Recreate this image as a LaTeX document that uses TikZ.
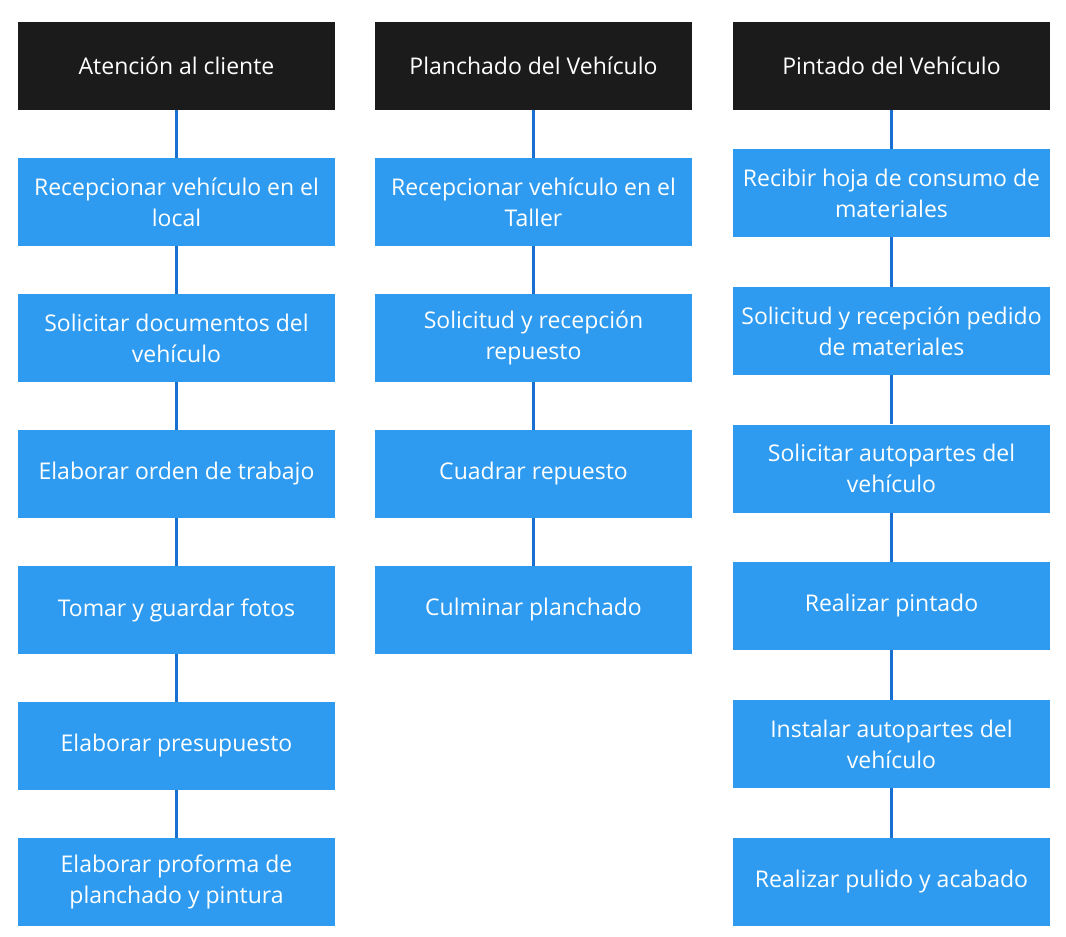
\documentclass[tikz,border=0pt]{standalone}
\usepackage{fontspec}
\setmainfont{Open Sans}
\definecolor{headfill}{HTML}{1B1B1B}
\definecolor{stepfill}{HTML}{2E9BF0}
\definecolor{linkcol}{HTML}{1A70D2}

\begin{document}
\begin{tikzpicture}[x=1pt, y=-1pt,
    headbox/.style={rectangle, fill=headfill, text=white, minimum width=317pt, minimum height=88pt, inner sep=0pt, align=center, font=\fontsize{23}{31}\selectfont},
    stepbox/.style={rectangle, fill=stepfill, text=white, minimum width=317pt, minimum height=88pt, inner sep=0pt, align=center, font=\fontsize{23}{31}\selectfont},
    link/.style={draw=linkcol, line width=3pt}
]
% Frame
\useasboundingbox[fill=white] (0,0) rectangle (1066,937);

% Headers
\node[headbox] (H1) at (176.5, 66) {Atención al cliente};
\node[headbox] (H2) at (533.5, 66) {Planchado del Vehículo};
\node[headbox] (H3) at (891.5, 66) {Pintado del Vehículo};

% Nodes: Atención al cliente
\node[stepbox] (A1) at (176.5, 202) {Recepcionar vehículo en el\\local};
\node[stepbox] (A2) at (176.5, 338) {Solicitar documentos del\\vehículo};
\node[stepbox] (A3) at (176.5, 474) {Elaborar orden de trabajo};
\node[stepbox] (A4) at (176.5, 610) {Tomar y guardar fotos};
\node[stepbox] (A5) at (176.5, 746) {Elaborar presupuesto};
\node[stepbox] (A6) at (176.5, 882) {Elaborar proforma de\\planchado y pintura};

% Nodes: Planchado del Vehículo
\node[stepbox] (B1) at (533.5, 202) {Recepcionar vehículo en el\\Taller};
\node[stepbox] (B2) at (533.5, 338) {Solicitud y recepción\\repuesto};
\node[stepbox] (B3) at (533.5, 474) {Cuadrar repuesto};
\node[stepbox] (B4) at (533.5, 610) {Culminar planchado};

% Nodes: Pintado del Vehículo
\node[stepbox] (C1) at (891.5, 193) {Recibir hoja de consumo de\\materiales};
\node[stepbox] (C2) at (891.5, 331) {Solicitud y recepción pedido\\de materiales};
\node[stepbox] (C3) at (891.5, 468.5) {Solicitar autopartes del\\vehículo};
\node[stepbox] (C4) at (891.5, 606) {Realizar pintado};
\node[stepbox] (C5) at (891.5, 744) {Instalar autopartes del\\vehículo};
\node[stepbox] (C6) at (891.5, 882) {Realizar pulido y acabado};

% Connections
\draw[link] (H1) -- (A1);
\foreach \a/\b in {A1/A2, A2/A3, A3/A4, A4/A5, A5/A6}
    \draw[link] (\a) -- (\b);
\draw[link] (H2) -- (B1);
\foreach \a/\b in {B1/B2, B2/B3, B3/B4}
    \draw[link] (\a) -- (\b);
\draw[link] (H3) -- (C1);
\foreach \a/\b in {C1/C2, C2/C3, C3/C4, C4/C5, C5/C6}
    \draw[link] (\a) -- (\b);
\end{tikzpicture}
\end{document}
